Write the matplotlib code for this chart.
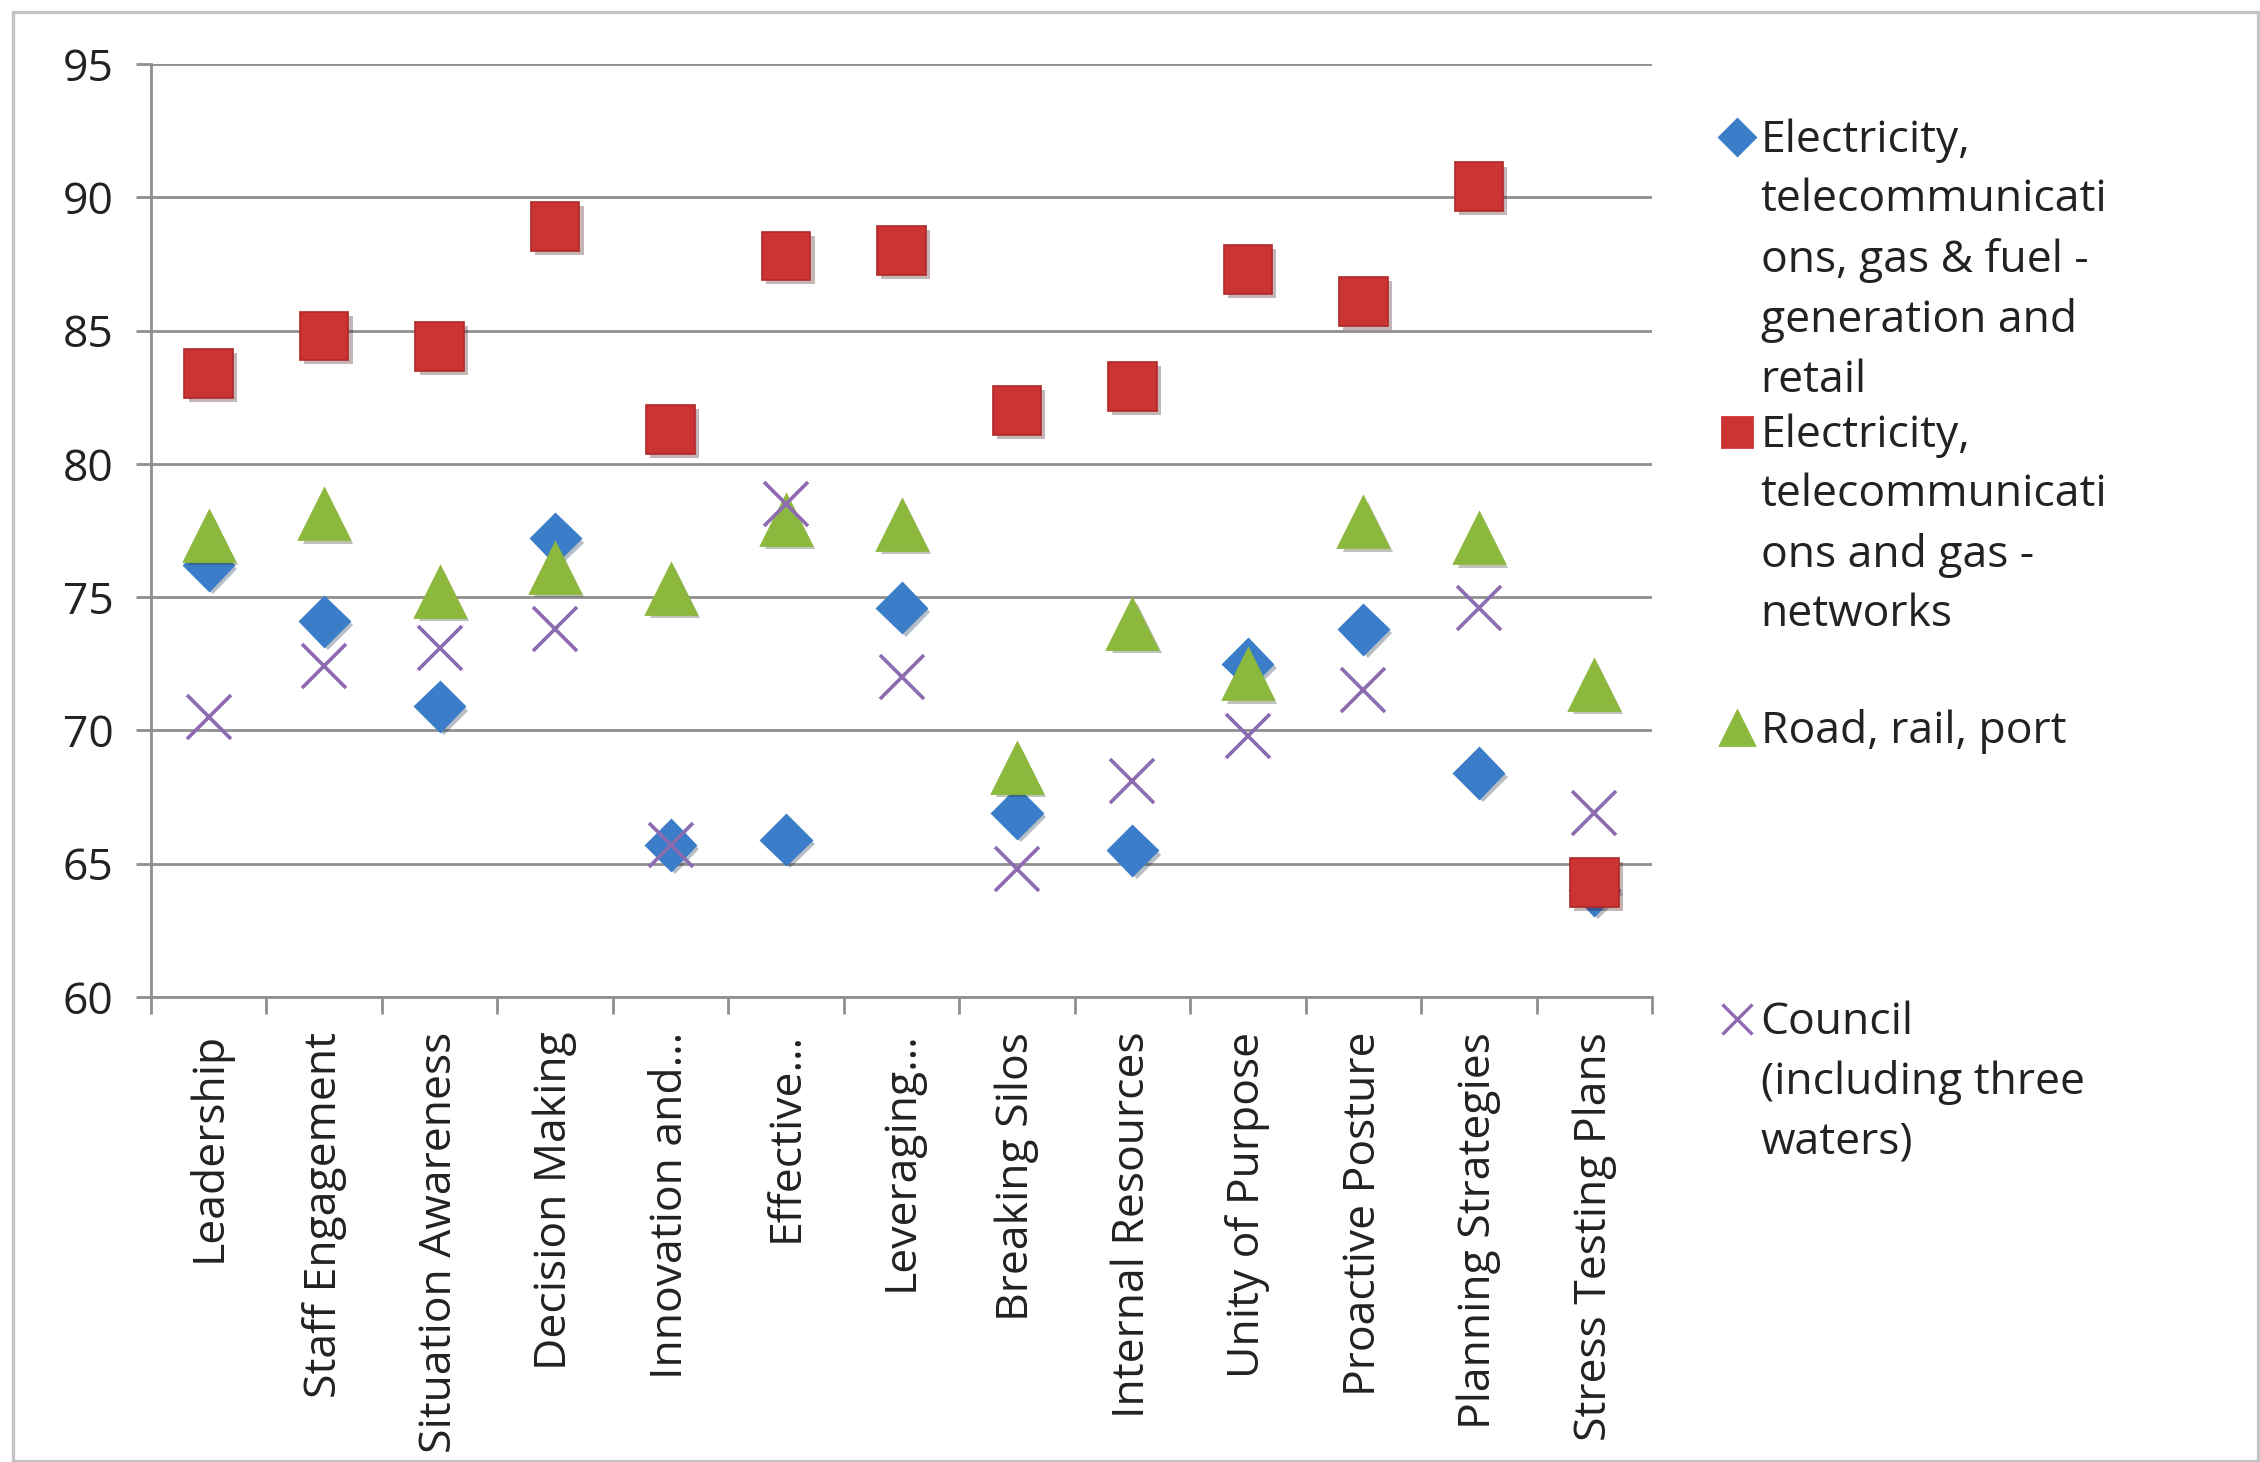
import numpy as np
import matplotlib
matplotlib.use('Agg')
import matplotlib.pyplot as plt
import matplotlib.patheffects as pe
from matplotlib.lines import Line2D
from matplotlib.patches import Rectangle

plt.rcParams['font.family'] = ['Open Sans', 'DejaVu Sans']

# ---------------- data ----------------
categories = ["Leadership", "Staff Engagement", "Situation Awareness",
              "Decision Making", "Innovation and\u2026", "Effective\u2026",
              "Leveraging\u2026", "Breaking Silos", "Internal Resources",
              "Unity of Purpose", "Proactive Posture", "Planning Strategies",
              "Stress Testing Plans"]

elec_generation = [76.2, 74.1, 70.9, 77.2, 65.7, 65.9, 74.6, 66.9, 65.5, 72.5, 73.8, 68.4, 64.0]
elec_networks   = [83.4, 84.8, 84.4, 88.9, 81.3, 87.8, 88.0, 82.0, 82.9, 87.3, 86.1, 90.4, 64.3]
road_rail_port  = [77.3, 78.1, 75.2, 76.1, 75.3, 77.9, 77.7, 68.6, 74.0, 72.1, 77.8, 77.2, 71.7]
council         = [70.5, 72.4, 73.1, 73.8, 65.7, 78.5, 72.0, 64.8, 68.1, 69.8, 71.5, 74.6, 66.9]

series_labels = ["Electricity,\ntelecommunicati\nons, gas & fuel -\ngeneration and\nretail",
                 "Electricity,\ntelecommunicati\nons and gas -\nnetworks",
                 "Road, rail, port",
                 "Council\n(including three\nwaters)"]

yticks = [60, 65, 70, 75, 80, 85, 90, 95]

# ---------------- styles ----------------
c_blue = '#3b7dc8'
c_red = '#cc3333'
c_green = '#8db83e'
c_purple = '#8c6bb1'
grid_col = '#8f8f8f'
txt_col = '#222222'
fs = 16

shadow = [pe.SimplePatchShadow(offset=(1.5, -1.5), alpha=0.3), pe.Normal()]

fig = plt.figure(figsize=(11.3, 7.31), dpi=200)
ax = fig.add_axes([0.0668, 0.3181, 0.731 - 0.0668, 0.9562 - 0.3181])

x = np.arange(1, len(categories) + 1)

ax.plot(x, elec_generation, ls='none', marker='D', ms=12.5, color=c_blue,
        mec=c_blue, path_effects=shadow, zorder=3)
ax.plot(x, elec_networks, ls='none', marker='s', ms=17.5, color=c_red,
        mec='#b02828', mew=0.6, path_effects=shadow, zorder=4)
ax.plot(x, road_rail_port, ls='none', marker='^', ms=18, color=c_green,
        mec=c_green, path_effects=shadow, zorder=5)
ax.plot(x, council, ls='none', marker='x', ms=16, color=c_purple,
        mew=1.3, zorder=6)

ax.set_xlim(0.5, len(categories) + 0.5)
ax.set_ylim(60, 95)
ax.set_yticks(yticks)
ax.set_yticklabels([str(v) for v in yticks], fontsize=fs, color=txt_col)
ax.yaxis.grid(True, color=grid_col, linewidth=1.0)
ax.set_axisbelow(True)

# category labels at centers, tick marks at category boundaries
ax.set_xticks(x)
ax.set_xticklabels(categories, rotation=90, fontsize=fs, color=txt_col,
                   va='top', ha='center')
ax.set_xticks(np.arange(0.5, len(categories) + 1), minor=True)
ax.tick_params(axis='x', which='major', length=0, pad=12.5)
ax.tick_params(axis='x', which='minor', length=6, width=1.0, color=grid_col,
               direction='out')
ax.tick_params(axis='y', length=5.5, width=1.0, color=grid_col, pad=8)

for s in ['top', 'right']:
    ax.spines[s].set_visible(False)
for s in ['left', 'bottom']:
    ax.spines[s].set_color(grid_col)
    ax.spines[s].set_linewidth(1.0)

# ---------------- legend, laid out like the Excel one ----------------
leg_marker_x = 0.7686
leg_text_x = 0.779
leg_rows = [0.9063, 0.7045, 0.502, 0.303]
leg_styles = [dict(marker='D', ms=9, color=c_blue, mec=c_blue),
              dict(marker='s', ms=11, color=c_red, mec=c_red),
              dict(marker='^', ms=12, color=c_green, mec=c_green),
              dict(marker='x', ms=11, color=c_purple, mew=1.2)]
for yr, lab, st in zip(leg_rows, series_labels, leg_styles):
    fig.add_artist(Line2D([leg_marker_x], [yr], ls='none',
                          transform=fig.transFigure, **st))
    fig.text(leg_text_x, yr + 0.0128, lab, fontsize=fs, color=txt_col,
             va='top', ha='left', linespacing=1.45)

# chart area border
fig.add_artist(Rectangle((0.0058, 0.0007), 0.9935, 0.9911, transform=fig.transFigure,
                         fill=False, edgecolor='#c4c4c4', linewidth=1.2))

fig.savefig('out.png', dpi=200, facecolor='white')
